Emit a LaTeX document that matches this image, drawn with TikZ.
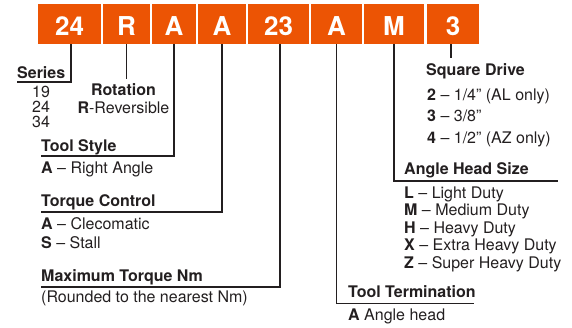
\documentclass[tikz,border=0pt]{standalone}
\usepackage{fontspec}
\setmainfont{TeX Gyre Heros}
\definecolor{codeorange}{RGB}{236,84,4}
\definecolor{ink}{RGB}{35,31,32}
\begin{document}
\begin{tikzpicture}[x=1pt,y=-1pt,
  codebox/.style={fill=codeorange,draw=none,inner sep=0pt,minimum height=40pt,
    text=white,font=\fontsize{26}{28}\selectfont\bfseries,text height=22pt,text depth=0pt},
  lbl/.style={inner sep=0pt,anchor=base west,text=ink,font=\fontsize{16}{18}\selectfont},
  head/.style={lbl,font=\fontsize{16}{18}\selectfont\bfseries},
  conn/.style={draw=ink,line width=1.5pt}]
\useasboundingbox (0,0) rectangle (572,327);
% code boxes
\node[codebox,minimum width=63pt] (b1) at (69.5,24) {24};
\node[codebox,minimum width=47pt] (b2) at (126.5,24) {R};
\node[codebox,minimum width=44pt] (b3) at (174,24) {A};
\node[codebox,minimum width=48pt] (b4) at (222,24) {A};
\node[codebox,minimum width=61pt] (b5) at (278.5,24) {23};
\node[codebox,minimum width=51pt] (b6) at (336.5,24) {A};
\node[codebox,minimum width=60pt] (b7) at (394,24) {M};
\node[codebox,minimum width=52pt] (b8) at (453,24) {3};
% Series
\node[head] (series) at (17,78) {Series};
\node[lbl,anchor=base] (s19) at (41,97) {19};
\node[lbl,anchor=base] (s24) at (41,112) {24};
\node[lbl,anchor=base] (s34) at (41,127) {34};
\coordinate (seriesEnd) at (17,82);
\draw[conn] ([xshift=1.5pt]b1.south) |- (seriesEnd);
% Rotation
\node[head,anchor=base] (rot) at (123.5,95) {Rotation};
\node[lbl,anchor=base] (rotR) at (123.5,113) {\textbf{R}-Reversible};
\coordinate (rotEnd) at (126.5,79);
\draw[conn] (b2.south) -- (rotEnd);
% Tool Style
\node[head] (ts) at (41,151.5) {Tool Style};
\node[lbl] (tsA) at (41,173) {\textbf{A} – Right Angle};
\coordinate (tsEnd) at (41,156);
\draw[conn] (b3.south) |- (tsEnd);
% Torque Control
\node[head] (tc) at (41,206.5) {Torque Control};
\node[lbl] (tcA) at (41,229.5) {\textbf{A} – Clecomatic};
\node[lbl] (tcS) at (41,248) {\textbf{S} – Stall};
\coordinate (tcEnd) at (41,212);
\draw[conn] (b4.south) |- (tcEnd);
% Maximum Torque
\node[head] (mt) at (41,281) {Maximum Torque Nm};
\node[lbl] (mtR) at (41,302) {(Rounded to the nearest Nm)};
\coordinate (mtEnd) at (41,287);
\draw[conn] ([xshift=1.5pt]b5.south) |- (mtEnd);
% Tool Termination
\node[head] (tt) at (348,297.5) {Tool Termination};
\node[lbl] (ttA) at (348,320) {\textbf{A} Angle head};
\coordinate (ttEnd) at (474,303.5);
\draw[conn] (b6.south) |- (ttEnd);
% Angle Head Size
\node[head] (ah) at (404,174.5) {Angle Head Size};
\node[lbl] (ahL) at (404,198.5) {\textbf{L} – Light Duty};
\node[lbl] (ahM) at (404,215.9) {\textbf{M} – Medium Duty};
\node[lbl] (ahH) at (404,233.3) {\textbf{H} – Heavy Duty};
\node[lbl] (ahX) at (404,250.7) {\textbf{X} – Extra Heavy Duty};
\node[lbl] (ahZ) at (404,268.1) {\textbf{Z} – Super Heavy Duty};
\coordinate (ahEnd) at (558,181);
\draw[conn] (b7.south) |- (ahEnd);
% Square Drive
\node[head] (sd) at (426,75.5) {Square Drive};
\node[lbl] (sd2) at (427,100) {\textbf{2} – 1/4” (AL only)};
\node[lbl] (sd3) at (427,121.7) {\textbf{3} – 3/8”};
\node[lbl] (sd4) at (427,143.3) {\textbf{4} – 1/2” (AZ only)};
\coordinate (sdEnd) at (451,58);
\draw[conn] ([xshift=-2pt]b8.south) -- (sdEnd);
\end{tikzpicture}
\end{document}
